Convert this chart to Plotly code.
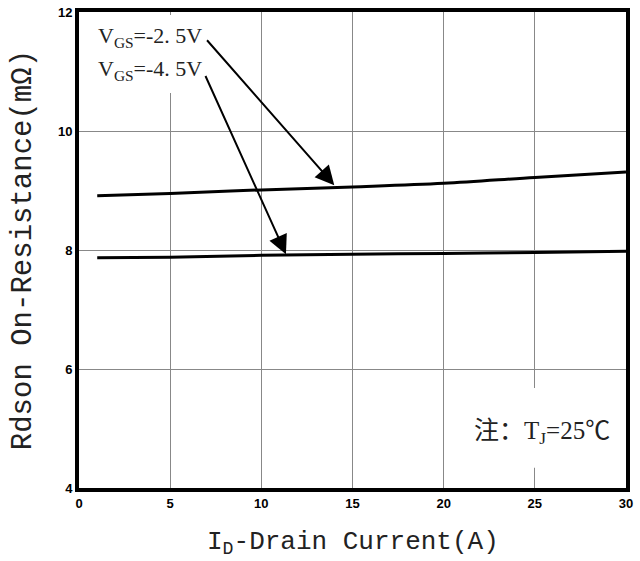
import plotly.graph_objects as go

# Data
current = [1, 5, 10, 15, 20, 25, 30]
rds_vgs25 = [8.91, 8.95, 9.01, 9.06, 9.12, 9.22, 9.31]
rds_vgs45 = [7.87, 7.88, 7.91, 7.93, 7.94, 7.96, 7.98]
x_ticks = [0, 5, 10, 15, 20, 25, 30]
y_ticks = [4, 6, 8, 10, 12]
label_25 = "V<sub>GS</sub>=-2. 5V"
label_45 = "V<sub>GS</sub>=-4. 5V"
note_text = "注：T<sub>J</sub>=25℃"
x_title = "I<sub>D</sub>-Drain Current(A)"
y_title = "Rdson On-Resistance(mΩ)"

fig = go.Figure()
fig.add_trace(go.Scatter(x=current, y=rds_vgs25, mode="lines", line=dict(color="black", width=3, shape="spline"), showlegend=False))
fig.add_trace(go.Scatter(x=current, y=rds_vgs45, mode="lines", line=dict(color="black", width=3, shape="spline"), showlegend=False))

# white areas hiding parts of the grid (label and note areas)
fig.add_shape(type="rect", x0=0.1, x1=7.3, y0=10.64, y1=11.95, fillcolor="white", line_width=0, layer="between")
fig.add_shape(type="rect", x0=20.6, x1=29.6, y0=4.34, y1=5.68, fillcolor="white", line_width=0, layer="between")

label_font = dict(family="Liberation Serif", size=22, color="#222")
fig.add_annotation(x=0.95, y=11.58, text=label_25, showarrow=False, xanchor="left", font=label_font)
fig.add_annotation(x=0.95, y=11.02, text=label_45, showarrow=False, xanchor="left", font=label_font)

fig.add_annotation(x=14.0, y=9.09, ax=6.95, ay=11.55, xref="x", yref="y", axref="x", ayref="y",
                   text="", showarrow=True, arrowhead=2, arrowsize=1.9, arrowwidth=2, arrowcolor="black")
fig.add_annotation(x=11.35, y=7.93, ax=6.9, ay=10.95, xref="x", yref="y", axref="x", ayref="y",
                   text="", showarrow=True, arrowhead=2, arrowsize=1.9, arrowwidth=2, arrowcolor="black")

fig.add_annotation(x=25.4, y=4.94, text=note_text, showarrow=False,
                   font=dict(family="Liberation Serif, Noto Sans CJK SC", size=25, color="#222"))

# axis titles
fig.add_annotation(x=0.5, y=-0.115, xref="paper", yref="paper", text=x_title, showarrow=False,
                   yanchor="middle", font=dict(family="Liberation Mono", size=26, color="#222"))
fig.add_annotation(x=-0.102, y=0.5, xref="paper", yref="paper", text=y_title, showarrow=False,
                   textangle=-90, xanchor="center", font=dict(family="Liberation Mono", size=29, color="#222"))

tick_font = dict(family="Liberation Sans Narrow, Liberation Sans, Arial", size=13, color="black", weight="bold")
fig.update_xaxes(range=[0, 30], tickvals=x_ticks, showgrid=True, gridcolor="#888", gridwidth=1,
                 showline=True, linecolor="black", linewidth=4, mirror=True, ticks="", zeroline=False,
                 tickfont=tick_font, automargin=False, ticklabeloverflow="allow")
fig.update_yaxes(range=[4, 12], tickvals=y_ticks, showgrid=True, gridcolor="#888", gridwidth=1,
                 showline=True, linecolor="black", linewidth=4, mirror=True, ticks="", zeroline=False,
                 tickfont=tick_font, automargin=False, ticklabeloverflow="allow")
fig.update_layout(width=640, height=561, margin=dict(l=79, r=14, t=12, b=73),
                  plot_bgcolor="white", paper_bgcolor="white", showlegend=False)
# remove the default 8px page margin so the figure fills the window exactly
fig.write_html("out.html", config={"displayModeBar": False},
               post_script="document.body.style.margin='0px';")
